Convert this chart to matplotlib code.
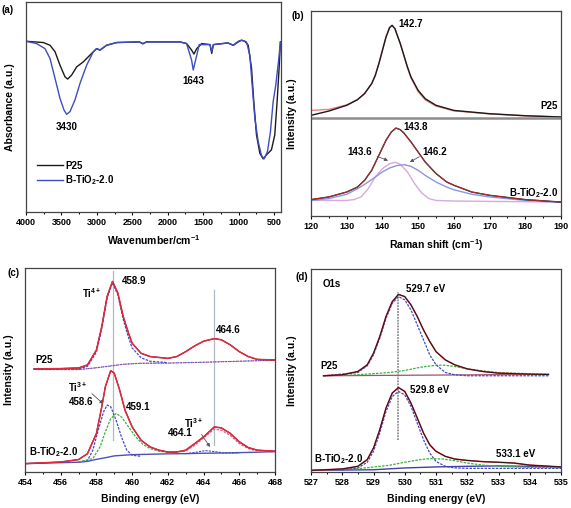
import matplotlib
matplotlib.use('Agg')
import matplotlib.pyplot as plt
from matplotlib.ticker import MultipleLocator

plt.rcParams['font.family'] = ['Liberation Sans', 'DejaVu Sans']
plt.rcParams['font.weight'] = 'bold'
plt.rcParams['axes.labelweight'] = 'bold'
plt.rcParams['mathtext.fontset'] = 'custom'
plt.rcParams['mathtext.rm'] = 'Liberation Sans:bold'
plt.rcParams['mathtext.bf'] = 'Liberation Sans:bold'
plt.rcParams['mathtext.default'] = 'bf'

# ---------------- (a) FTIR ----------------
ftir_p25_x = [4000, 3755, 3661, 3590, 3520, 3450, 3412, 3356, 3285, 3191, 3097, 3003,
              2956, 2862, 2720, 2400, 2350, 2300, 2000, 1827, 1733, 1662, 1629, 1590,
              1520, 1402, 1378, 1355, 1150, 1073, 1003, 957, 910, 863, 816, 784, 746,
              699, 652, 605, 535, 488, 455, 427, 408]
ftir_p25_y = [81.3, 80.7, 79.4, 76.3, 69.9, 64.4, 63.3, 65.2, 69.1, 71.5, 74.7, 77.8,
              77.1, 79.4, 80.7, 81.0, 80.2, 81.0, 81.0, 81.0, 80.2, 77.1, 75.2, 77.8,
              80.2, 79.7, 75.5, 79.7, 80.5, 79.4, 81.0, 81.8, 81.3, 79.4, 68.4, 52.5, 36.7,
              28.0, 25.3, 27.2, 29.6, 36.7, 52.5, 68.4, 81.0]
ftir_b_x = [4000, 3850, 3732, 3661, 3590, 3520, 3464, 3426, 3379, 3309, 3238, 3144,
            3050, 3003, 2956, 2862, 2720, 2400, 2350, 2300, 2000, 1827, 1733, 1662,
            1639, 1606, 1554, 1402, 1378, 1355, 1150, 1073, 1003, 957, 887, 840, 807,
            769, 722, 675, 638, 591, 549, 511, 474, 436, 408]
ftir_b_y = [81.3, 80.2, 77.8, 73.1, 63.6, 54.1, 48.6, 46.5, 47.8, 53.3, 61.2, 69.9,
            76.3, 77.8, 77.1, 79.4, 80.7, 81.0, 80.0, 81.0, 81.0, 81.0, 80.2, 72.3,
            67.6, 72.3, 79.7, 79.7, 76.3, 79.7, 80.5, 79.4, 81.3, 81.8, 81.0, 74.7, 60.4,
            44.6, 33.5, 26.9, 25.3, 28.8, 38.3, 52.5, 60.4, 71.5, 81.0]

# ---------------- (b) Raman ----------------
raman_p25_x = [120, 125, 130, 133, 135, 137, 138, 139, 140, 141, 142, 142.7, 143.5,
               144, 145, 146, 147, 148, 150, 152, 155, 160, 170, 180, 190]
raman_p25_y = [49.1, 51.2, 54.0, 56.7, 59.7, 64.6, 68.6, 74.3, 80.8, 87.3, 91.9, 93.0,
               91.4, 88.9, 84.1, 78.4, 72.7, 67.8, 61.3, 57.2, 54.0, 51.5, 49.9, 48.9, 48.3]
raman_p25_fit = [51.5, 52.0, 54.2, 56.8, 59.8, 64.6, 68.6, 74.3, 80.8, 87.3, 91.9, 93.0,
                 91.4, 88.9, 84.1, 78.4, 72.4, 67.3, 60.6, 56.6, 53.6, 51.3, 49.8, 48.9, 48.3]
raman_b_x = [120, 125, 130, 133, 135, 137, 139, 141, 142.5, 143.8, 145, 146, 148, 150,
             152, 155, 158, 160, 165, 170, 180, 190]
raman_b_y = [8.0, 9.3, 11.7, 14.1, 17.4, 22.3, 29.6, 36.9, 41.0, 42.9, 42.1, 40.5, 36.1,
             31.2, 26.3, 20.7, 16.6, 15.0, 11.7, 10.1, 8.0, 6.8]
raman_b_c2_x = [120, 125, 130, 133, 135, 138, 140, 142, 144, 146.2, 148, 150, 152, 155,
                158, 160, 165, 170, 180, 190]
raman_b_c2_y = [7.6, 8.5, 10.6, 13.3, 15.4, 19.0, 21.5, 23.4, 24.6, 25.0, 24.2, 22.3,
                19.8, 16.6, 14.1, 12.8, 10.6, 9.3, 7.6, 6.7]
raman_b_c1_x = [120, 130, 132, 134, 136, 138, 140, 142, 143.6, 145, 147, 149, 151, 153,
                155, 160, 190]
raman_b_c1_y = [7.6, 7.6, 8.0, 9.3, 13.3, 19.0, 23.1, 25.5, 26.2, 25.2, 21.5, 15.8,
                11.2, 8.5, 7.6, 7.3, 6.8]

# ---------------- (c) Ti 2p ----------------
ti_p25_x = [454.5, 456, 457, 457.5, 458, 458.3, 458.6, 458.9, 459.2, 459.5, 459.8, 460,
            460.5, 461, 462, 462.5, 463, 463.5, 464, 464.6, 465, 465.5, 466, 466.5, 467, 468]
ti_p25_y = [50.5, 50.7, 51.0, 52.5, 59.8, 71.3, 86.1, 93.4, 87.7, 76.2, 68.0, 63.1,
            58.2, 56.6, 55.7, 56.6, 59.0, 61.8, 64.1, 65.4, 64.8, 62.3, 59.0, 56.6, 55.2, 54.9]
ti_p25_main_x = [454.5, 457, 457.5, 458, 458.3, 458.6, 458.9, 459.2, 459.5, 459.8, 460,
                 460.5, 461, 462]
ti_p25_main_y = [50.3, 50.5, 51.8, 58.8, 70.5, 85.5, 92.8, 86.8, 74.8, 65.8, 60.8,
                 56.0, 54.3, 53.6]
ti_p25_bg_x = [454.5, 457, 458, 458.9, 459.5, 460.5, 462, 464, 466, 468]
ti_p25_bg_y = [50.3, 50.2, 51.1, 52.1, 52.8, 53.3, 53.4, 53.8, 54.3, 54.8]

ti_b_x = [454, 456, 457, 457.5, 458, 458.3, 458.5, 458.8, 459, 459.3, 459.6, 460, 460.5,
          461, 461.5, 462, 462.5, 463, 463.5, 464, 464.6, 465, 465.5, 466, 466.5, 467, 468]
ti_b_y = [4.1, 4.9, 6.1, 9.0, 18.9, 32.0, 41.8, 49.7, 48.4, 40.2, 30.3, 22.1, 15.6,
          12.3, 10.7, 9.8, 9.8, 10.7, 13.9, 17.2, 22.1, 21.6, 18.9, 14.8, 12.0, 10.7, 10.2]
ti3_x = [457, 457.5, 457.8, 458.1, 458.4, 458.6, 458.8, 459.1, 459.4, 459.7, 460, 460.5]
ti3_y = [4.9, 5.7, 10.7, 20.5, 29.5, 32.8, 32.0, 25.4, 17.2, 10.7, 8.2, 7.7]
ti4_x = [457, 457.8, 458.2, 458.5, 458.8, 459.1, 459.4, 459.8, 460.2, 460.6, 461,
         461.5, 462]
ti4_y = [4.9, 6.6, 12.3, 19.7, 26.2, 28.7, 27.0, 22.1, 17.2, 13.6, 11.5, 10.2, 9.7]
ti4_hi_x = [462, 463, 463.5, 464, 464.6, 465, 465.5, 466, 466.5, 467, 468]
ti4_hi_y = [9.3, 10.3, 13.1, 16.7, 21.0, 20.5, 17.9, 13.9, 11.5, 10.3, 9.8]
ti3_hi_x = [463, 463.6, 464.1, 464.6, 465.2, 466]
ti3_hi_y = [9.0, 9.7, 10.5, 10.0, 9.3, 9.3]
ti_b_bg_x = [454, 457, 457.5, 458, 458.5, 459, 460, 461, 462, 463, 464, 465, 466, 467, 468]
ti_b_bg_y = [4.1, 4.8, 5.2, 6.2, 7.0, 7.9, 8.5, 8.7, 8.9, 9.0, 9.2, 9.3, 9.5, 9.7, 10.0]

# ---------------- (d) O 1s ----------------
o_p25_x = [527.4, 528, 528.5, 528.8, 529, 529.2, 529.4, 529.6, 529.8, 530, 530.2, 530.4,
           530.6, 530.8, 531, 531.3, 531.6, 532, 532.5, 533, 534, 534.6]
o_p25_y = [47.4, 47.9, 49.5, 52.8, 58.5, 66.7, 76.6, 83.9, 87.5, 86.4, 82.3, 76.6,
           70.0, 64.3, 59.3, 55.2, 52.8, 50.8, 49.5, 48.7, 48.2, 48.0]
o_p25_c1_x = [527.4, 528.5, 528.8, 529, 529.2, 529.4, 529.6, 529.8, 530, 530.2, 530.4,
              530.6, 530.8, 531, 531.3, 531.6, 532, 534.6]
o_p25_c1_y = [47.4, 49.0, 52.3, 57.7, 65.9, 75.7, 83.1, 86.4, 84.8, 79.8, 72.5, 65.1,
              57.7, 52.8, 49.0, 47.9, 47.4, 47.4]
o_p25_c2_x = [527.4, 528.5, 529.5, 530, 530.5, 531, 531.3, 531.6, 532, 532.5, 533, 534, 534.6]
o_p25_c2_y = [47.4, 47.9, 49.0, 50.0, 51.6, 52.6, 52.6, 52.0, 50.8, 49.8, 49.0, 48.4, 48.2]
o_p25_bg_x = [527.4, 534.6]
o_p25_bg_y = [47.4, 48.1]

o_b_x = [527, 528, 528.5, 528.8, 529, 529.2, 529.4, 529.6, 529.8, 530, 530.2, 530.4,
         530.6, 530.8, 531, 531.3, 531.6, 532, 532.5, 533, 533.5, 534, 535]
o_b_y = [0.8, 1.5, 2.8, 6.1, 11.8, 20.8, 31.5, 38.9, 41.6, 39.7, 33.9, 26.6, 19.2,
         13.4, 10.2, 7.7, 6.4, 5.7, 5.1, 4.8, 4.4, 3.4, 2.5]
o_b_c1_x = [528, 528.5, 528.8, 529, 529.2, 529.4, 529.6, 529.8, 530, 530.2, 530.4,
            530.6, 530.8, 531, 531.3, 531.6, 532, 535]
o_b_c1_y = [1.1, 2.0, 4.8, 10.2, 19.2, 29.8, 37.2, 39.7, 38.0, 32.3, 24.1, 15.9, 9.3,
            5.2, 2.8, 2.0, 1.8, 1.8]
o_b_c2_x = [527, 528.5, 529.5, 530, 530.5, 530.8, 531.2, 531.6, 532, 532.5, 533, 534, 535]
o_b_c2_y = [0.8, 1.6, 3.3, 4.8, 6.1, 6.6, 6.4, 5.6, 4.4, 3.4, 2.8, 2.3, 2.1]
o_b_bg_x = [527, 529, 530, 531, 532, 533, 534, 535]
o_b_bg_y = [0.8, 1.1, 2.0, 2.5, 2.8, 3.0, 2.8, 2.5]

BLACK = '#1a1a1a'
RED = '#e8283c'
BLUE = '#3f4cc4'
GREEN = '#3cae3c'

fig = plt.figure(figsize=(5.71, 5.08), dpi=100)


def style(ax):
    for s in ax.spines.values():
        s.set_color('#444444')
        s.set_linewidth(0.9)
    ax.set_yticks([])
    ax.tick_params(axis='x', direction='out', length=2.5, width=0.8, labelsize=6.5, pad=1.5)
    ax.tick_params(axis='x', which='minor', direction='out', length=1.5, width=0.7)


def arrow(ax, xy, xytext):
    ax.annotate('', xy=xy, xytext=xytext,
                arrowprops=dict(arrowstyle='-|>', color='#555555', lw=0.6, mutation_scale=5))


# (a)
ax = fig.add_axes([26 / 571, 1 - 212 / 508, 255 / 571, 210 / 508])
ax.plot(ftir_p25_x, ftir_p25_y, color=BLACK, lw=1.0, label='P25')
ax.plot(ftir_b_x, ftir_b_y, color=BLUE, lw=1.0, label='B-TiO$_2$-2.0')
ax.set_xlim(4000, 400)
ax.set_ylim(0, 100)
ax.xaxis.set_major_locator(MultipleLocator(500))
ax.xaxis.set_minor_locator(MultipleLocator(250))
style(ax)
ax.text(3430, 40.7, '3430', ha='center', va='center', fontsize=7)
ax.text(1643, 62.5, '1643', ha='center', va='center', fontsize=7)
ax.legend(loc='upper left', bbox_to_anchor=(0.01, 0.285), frameon=False, fontsize=7,
          handlelength=2.6, labelspacing=0.25, handletextpad=0.3)
ax.set_xlabel('Wavenumber/cm$^{-1}$', fontsize=7.5, labelpad=5)
ax.set_ylabel('Absorbance (a.u.)', fontsize=7.5, labelpad=8)
fig.text(2 / 571, 1 - 10 / 508, '(a)', fontsize=7, va='center')

# (b)
ax = fig.add_axes([311 / 571, 1 - 216 / 508, 250 / 571, 205 / 508])
ax.plot(raman_p25_x, raman_p25_fit, color='#f08080', lw=1.0)
ax.plot(raman_p25_x, raman_p25_y, color=BLACK, lw=1.0)
ax.plot(raman_b_c1_x, raman_b_c1_y, color='#d8a8e0', lw=1.0)
ax.plot(raman_b_c2_x, raman_b_c2_y, color='#8a96e0', lw=1.0)
ax.plot(raman_b_x, raman_b_y, color=BLACK, lw=1.0)
ax.plot(raman_b_x, raman_b_y, color='#c83030', lw=0.6)
ax.axhline(47.6, color='#8c8c8c', lw=1.8)
ax.set_xlim(120, 190)
ax.set_ylim(0, 100)
ax.xaxis.set_major_locator(MultipleLocator(10))
ax.xaxis.set_minor_locator(MultipleLocator(5))
style(ax)
ax.text(144.6, 93.8, '142.7', ha='left', va='center', fontsize=7)
ax.text(189, 53.5, 'P25', ha='right', va='center', fontsize=7)
ax.text(146, 43.4, '143.8', ha='left', va='center', fontsize=7)
ax.text(137.2, 31.2, '143.6', ha='right', va='center', fontsize=7)
ax.text(151.1, 31.2, '146.2', ha='left', va='center', fontsize=7)
arrow(ax, (142.3, 26.5), (137.8, 29.6))
arrow(ax, (147.0, 25.6), (151.0, 29.6))
ax.text(189.2, 11.4, 'B-TiO$_2$-2.0', ha='right', va='center', fontsize=7)
ax.set_xlabel('Raman shift (cm$^{-1}$)', fontsize=7.5, labelpad=5)
ax.set_ylabel('Intensity (a.u.)', fontsize=7.5, labelpad=10)
fig.text(291 / 571, 1 - 16 / 508, '(b)', fontsize=7, va='center')

# (c)
ax = fig.add_axes([25 / 571, 36 / 508, 250 / 571, 204 / 508])
ax.plot([458.9, 458.9], [15.6, 98.4], color='#b0b8c8', lw=0.9)
ax.plot([464.6, 464.6], [13.1, 89.3], color='#b0b8c8', lw=0.9)
ax.plot(ti_p25_bg_x, ti_p25_bg_y, color='#e070a0', lw=0.9, ls=(0, (2, 1)))
ax.plot(ti_p25_bg_x, ti_p25_bg_y, color=BLUE, lw=0.6, ls=(1, (2, 1)))
ax.plot(ti_p25_main_x, ti_p25_main_y, color=BLUE, lw=0.9, ls=(0, (2, 1)))
ax.plot(ti_p25_x, ti_p25_y, color=BLACK, lw=0.8)
ax.plot(ti_p25_x, ti_p25_y, color=RED, lw=1.1)
ax.plot(ti_b_bg_x, ti_b_bg_y, color='#5050b8', lw=1.0)
ax.plot(ti3_x, ti3_y, color=BLUE, lw=0.9, ls=(0, (2, 1)))
ax.plot(ti4_x, ti4_y, color=GREEN, lw=0.9, ls=(0, (2, 1)))
ax.plot(ti4_hi_x, ti4_hi_y, color='#e06090', lw=0.9, ls=(0, (2, 1)))
ax.plot(ti3_hi_x, ti3_hi_y, color=BLUE, lw=0.8, ls=(0, (2, 1)))
ax.plot(ti_b_x, ti_b_y, color=BLACK, lw=0.8)
ax.plot(ti_b_x, ti_b_y, color=RED, lw=1.1)
ax.set_xlim(454, 468)
ax.set_ylim(0, 100)
ax.xaxis.set_major_locator(MultipleLocator(2))
ax.xaxis.set_minor_locator(MultipleLocator(1))
style(ax)
ax.text(459.4, 93.4, '458.9', ha='left', va='center', fontsize=7)
ax.text(458.3, 87.7, 'Ti$^{4+}$', ha='right', va='center', fontsize=7)
ax.text(464.7, 69.7, '464.6', ha='left', va='center', fontsize=7)
ax.text(454.6, 54.9, 'P25', ha='left', va='center', fontsize=7)
ax.text(456.95, 41.8, 'Ti$^{3+}$', ha='center', va='center', fontsize=7)
ax.text(457.17, 34.4, '458.6', ha='center', va='center', fontsize=7)
ax.text(459.65, 32.0, '459.1', ha='left', va='center', fontsize=7)
ax.text(463.47, 23.8, 'Ti$^{3+}$', ha='center', va='center', fontsize=7)
ax.text(462.7, 18.9, '464.1', ha='center', va='center', fontsize=7)
ax.text(454.2, 9.8, 'B-TiO$_2$-2.0', ha='left', va='center', fontsize=7)
arrow(ax, (458.5, 32.5), (457.63, 39.3))
arrow(ax, (464.45, 11.1), (463.8, 19.5))
ax.set_xlabel('Binding energy (eV)', fontsize=7.5, labelpad=5)
ax.set_ylabel('Intensity (a.u.)', fontsize=7.5, labelpad=8)
fig.text(7 / 571, 1 - 273 / 508, '(c)', fontsize=7, va='center')

# (d)
ax = fig.add_axes([311 / 571, 36 / 508, 250 / 571, 203 / 508])
ax.plot([529.77, 529.77], [15.9, 88.9], color='#909090', lw=1.3, ls=(0, (1, 0.6)))
ax.plot(o_p25_bg_x, o_p25_bg_y, color='#a05070', lw=0.9)
ax.plot(o_p25_c2_x, o_p25_c2_y, color=GREEN, lw=0.9, ls=(0, (2, 1)))
ax.plot(o_p25_c1_x, o_p25_c1_y, color=BLUE, lw=0.9, ls=(0, (2, 1)))
ax.plot(o_p25_x, o_p25_y, color=RED, lw=1.1)
ax.plot(o_p25_x, o_p25_y, color=BLACK, lw=0.7)
ax.plot(o_b_bg_x, o_b_bg_y, color='#4040a8', lw=1.0)
ax.plot(o_b_c2_x, o_b_c2_y, color=GREEN, lw=0.9, ls=(0, (2, 1)))
ax.plot(o_b_c1_x, o_b_c1_y, color=BLUE, lw=0.9, ls=(0, (2, 1)))
ax.plot(o_b_x, o_b_y, color=RED, lw=1.1)
ax.plot(o_b_x, o_b_y, color=BLACK, lw=0.7)
ax.set_xlim(527, 535)
ax.set_ylim(0, 100)
ax.xaxis.set_major_locator(MultipleLocator(1))
ax.xaxis.set_minor_locator(MultipleLocator(0.5))
style(ax)
ax.text(527.37, 92.5, 'O1s', ha='left', va='center', fontsize=7)
ax.text(530.05, 90.0, '529.7 eV', ha='left', va='center', fontsize=7)
ax.text(527.3, 52.3, 'P25', ha='left', va='center', fontsize=7)
ax.text(530.17, 40.5, '529.8 eV', ha='left', va='center', fontsize=7)
ax.text(527.08, 6.6, 'B-TiO$_2$-2.0', ha='left', va='center', fontsize=7)
ax.text(532.92, 9.0, '533.1 eV', ha='left', va='center', fontsize=7)
ax.set_xlabel('Binding energy (eV)', fontsize=7.5, labelpad=5)
ax.set_ylabel('Intensity (a.u.)', fontsize=7.5, labelpad=10)
fig.text(295 / 571, 1 - 277 / 508, '(d)', fontsize=7, va='center')

fig.savefig('out.png', dpi=100)
